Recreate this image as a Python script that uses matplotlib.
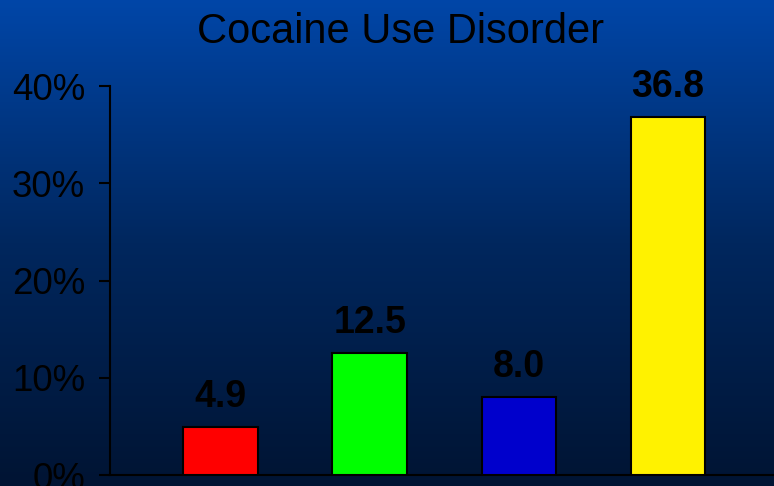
import matplotlib
matplotlib.use("Agg")
import matplotlib.pyplot as plt
import numpy as np
from matplotlib.colors import LinearSegmentedColormap

categories = ["A", "B", "C", "D"]
values = [4.9, 12.5, 8.0, 36.8]
labels = ["4.9", "12.5", "8.0", "36.8"]
colors = ["#ff0000", "#00ff00", "#0000cc", "#fff200"]
yticks = [0, 10, 20, 30, 40]
ytick_labels = ["0%", "10%", "20%", "30%", "40%"]
title = "Cocaine Use Disorder"

plt.rcParams['font.family'] = ['Liberation Sans', 'DejaVu Sans']

fig = plt.figure(figsize=(7.74, 4.86), dpi=100)

# gradient background
bg = fig.add_axes([0, 0, 1, 1], zorder=-10)
cmap = LinearSegmentedColormap.from_list("bg", ["#0046a8", "#00275e", "#001433"])
grad = np.linspace(0, 1, 256).reshape(-1, 1)
bg.imshow(grad, aspect="auto", cmap=cmap, extent=[0, 1, 0, 1], origin="upper")
bg.set_axis_off()

ax = fig.add_axes([110/774, 11/486, 1 - 110/774, (475-86)/486])
ax.patch.set_alpha(0)
x = np.arange(len(categories))
ax.bar(x, values, width=0.5, color=colors, edgecolor="black", linewidth=1.5, zorder=3)
for xi, v, lab in zip(x, values, labels):
    ax.text(xi, v + 2.1, lab, ha="center", va="baseline", fontsize=27, fontweight="bold", color="black")

ax.set_xlim(-0.74, 3.71)
ax.set_ylim(0, 40)
ax.set_yticks(yticks)
ax.set_yticklabels(ytick_labels, fontsize=26.5, color="black")
ax.set_xticks([])
for s in ["top", "right"]:
    ax.spines[s].set_visible(False)
ax.spines["left"].set_linewidth(1.5)
ax.spines["bottom"].set_linewidth(1.5)
ax.tick_params(axis="y", length=8, width=1.5, direction="out", pad=10)

fig.text(0.517, 0.935, title, ha="center", va="center", fontsize=30, color="black")

fig.savefig("out.png", dpi=100)
